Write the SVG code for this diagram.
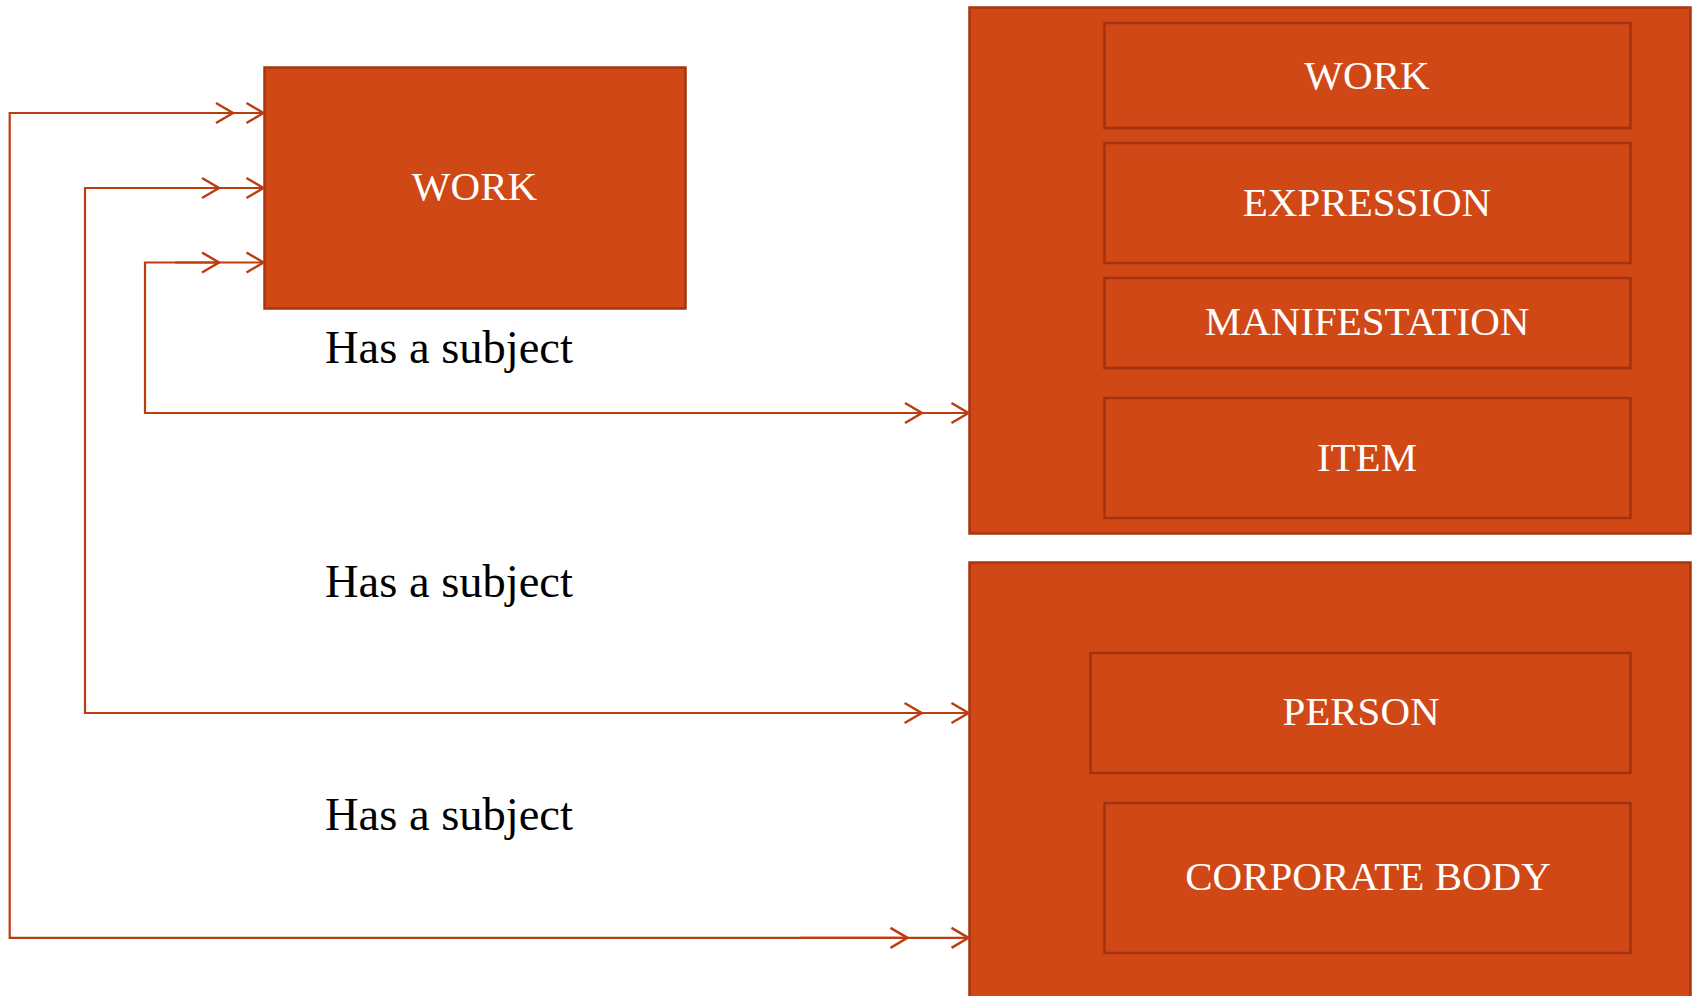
<svg xmlns="http://www.w3.org/2000/svg" width="1694" height="996" viewBox="0 0 1694 996">
  <style>
    .box { fill: #D14817; stroke: #A8350F; stroke-width: 2.5; }
    .inner { fill: #D14817; stroke: #A3330F; stroke-width: 2.5; }
    .boxtext { fill: #FFFFFF; font-family: "Liberation Serif", "DejaVu Serif", serif; font-size: 41px; text-anchor: middle; }
    .label { fill: #000000; font-family: "Liberation Serif", "DejaVu Serif", serif; font-size: 46.5px; }
    .conn { fill: none; stroke: #BC3E10; stroke-width: 2.2; }
  </style>
  <defs>
    <marker id="chev" markerUnits="userSpaceOnUse" markerWidth="26" markerHeight="26" viewBox="-20 -13 26 26" refX="0" refY="0" orient="auto-start-reverse" overflow="visible">
      <path d="M -17 -10 L 0 0 L -17 10" fill="none" stroke="#BC3E10" stroke-width="2.5"/>
    </marker>
  </defs>
  <rect width="1694" height="996" fill="#FFFFFF"/>

  <g id="work-main">
    <rect class="box" x="264.5" y="67.5" width="421" height="241"/>
    <text class="boxtext" x="474.5" y="200">WORK</text>
  </g>

  <g id="group1">
    <rect class="box" x="969.5" y="7.5" width="721" height="526"/>
    <g id="g1-work">
      <rect class="inner" x="1104.5" y="23" width="526" height="105"/>
      <text class="boxtext" x="1367" y="89">WORK</text>
    </g>
    <g id="g1-expression">
      <rect class="inner" x="1104.5" y="143" width="526" height="120"/>
      <text class="boxtext" x="1367" y="215.5">EXPRESSION</text>
    </g>
    <g id="g1-manifestation">
      <rect class="inner" x="1104.5" y="278" width="526" height="90"/>
      <text class="boxtext" x="1367" y="335">MANIFESTATION</text>
    </g>
    <g id="g1-item">
      <rect class="inner" x="1104.5" y="398" width="526" height="120"/>
      <text class="boxtext" x="1367" y="471">ITEM</text>
    </g>
  </g>

  <g id="group2">
    <rect class="box" x="969.5" y="562.5" width="721" height="440"/>
    <g id="g2-person">
      <rect class="inner" x="1090.5" y="653" width="540" height="120"/>
      <text class="boxtext" x="1361" y="725">PERSON</text>
    </g>
    <g id="g2-corporate">
      <rect class="inner" x="1104.5" y="803" width="526" height="150"/>
      <text class="boxtext" x="1368" y="890">CORPORATE BODY</text>
    </g>
  </g>

  <g id="connectors">
    <path class="conn" d="M 263.5 113 H 9.7 V 937.8 H 968.5" marker-start="url(#chev)" marker-end="url(#chev)"/>
    <path class="conn" d="M 160 113 H 233" marker-end="url(#chev)"/>
    <path class="conn" d="M 800 937.8 H 907.5" marker-end="url(#chev)"/>

    <path class="conn" d="M 263.5 188 H 85 V 713 H 968.5" marker-start="url(#chev)" marker-end="url(#chev)"/>
    <path class="conn" d="M 175 188 H 219" marker-end="url(#chev)"/>
    <path class="conn" d="M 820 713 H 921.6" marker-end="url(#chev)"/>

    <path class="conn" d="M 263.5 262.5 H 145 V 413 H 968.5" marker-start="url(#chev)" marker-end="url(#chev)"/>
    <path class="conn" d="M 175 262.5 H 219" marker-end="url(#chev)"/>
    <path class="conn" d="M 790 413 H 922" marker-end="url(#chev)"/>
  </g>

  <g id="labels">
    <text class="label" x="325" y="363.3">Has a subject</text>
    <text class="label" x="325" y="596.7">Has a subject</text>
    <text class="label" x="325" y="830">Has a subject</text>
  </g>
</svg>
